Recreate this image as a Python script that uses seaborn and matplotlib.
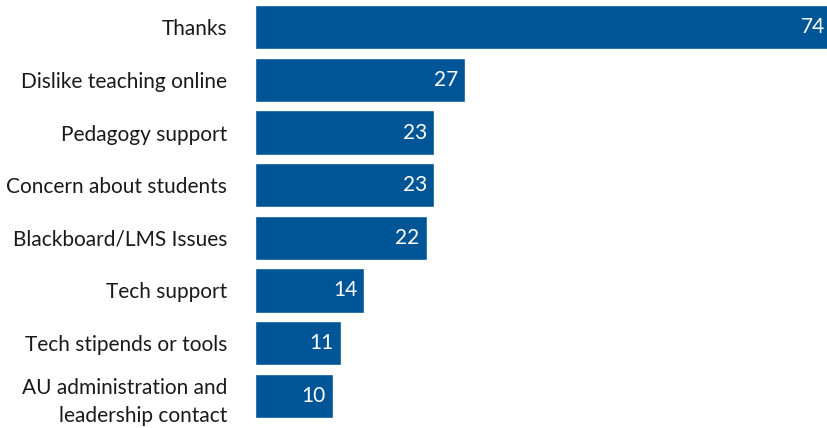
import matplotlib
matplotlib.use("Agg")
import matplotlib.pyplot as plt
import seaborn as sns
import pandas as pd

categories = ["Thanks", "Dislike teaching online", "Pedagogy support",
              "Concern about students", "Blackboard/LMS Issues", "Tech support",
              "Tech stipends or tools", "AU administration and\nleadership contact"]
values = [74, 27, 23, 23, 22, 14, 11, 10]

sns.set_theme(style="white")
plt.rcParams['font.family'] = ['Lato', 'DejaVu Sans']

df = pd.DataFrame({"category": categories, "value": values})

fig = plt.figure(figsize=(8.28, 4.28), dpi=100)
ax = fig.add_axes([255/828, 6/428, 1 - 255/828, 421/428])
sns.barplot(data=df, y="category", x="value", orient="h", color="#005596",
            saturation=1, width=0.84, ax=ax)
ax.set_xlim(0, 73.5)
ax.set_xlabel("")
ax.set_ylabel("")
ax.set_xticks([])
for s in ax.spines.values():
    s.set_visible(False)
ax.tick_params(axis="y", length=0, pad=20, labelsize=15, colors="#1a1a1a")
for lbl in ax.get_yticklabels():
    lbl.set_linespacing(1.55)
for i, v in enumerate(values):
    ax.annotate(str(v), xy=(v, i), xytext=(-7, 0), textcoords="offset pixels",
                ha="right", va="center", color="white", fontsize=15,
                annotation_clip=False)
fig.savefig("out.png", dpi=100)
